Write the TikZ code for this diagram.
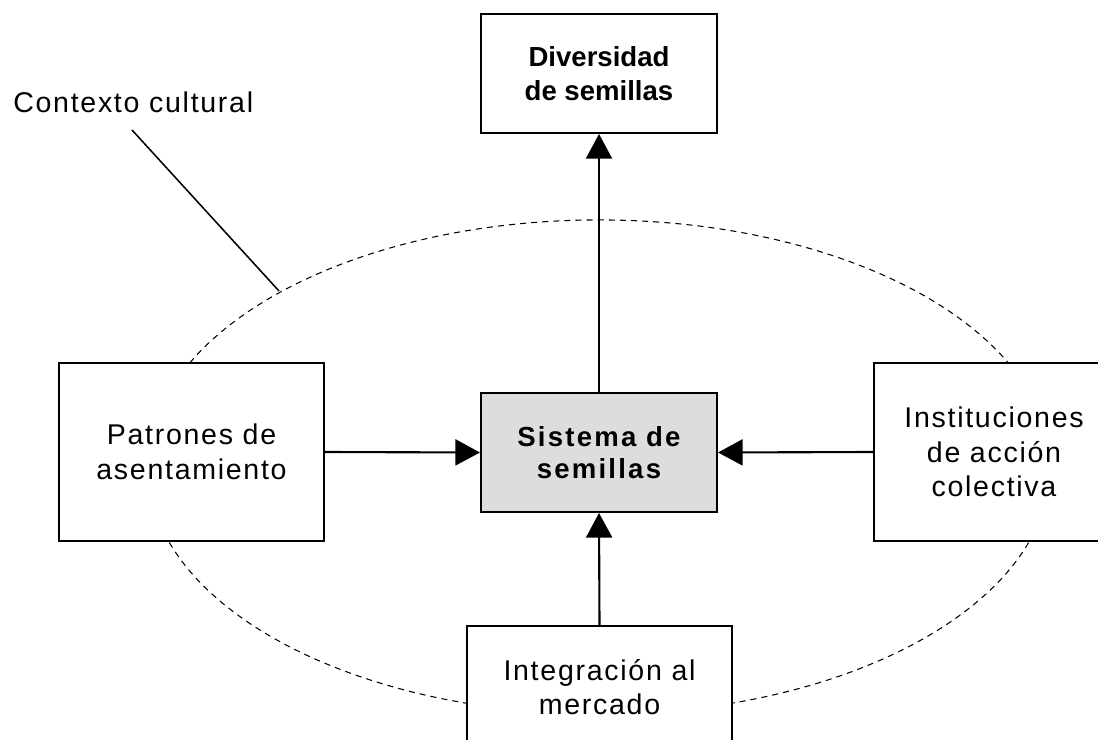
\documentclass[tikz,border=0pt]{standalone}
\usepackage{fontspec}
\setmainfont{Liberation Sans}
\newfontfamily\regsp[LetterSpace=6]{Liberation Sans}
\newfontfamily\boldsp[LetterSpace=8]{Liberation Sans Bold}
\newfontfamily\boldplain{Liberation Sans Bold}
\usetikzlibrary{arrows.meta}
\definecolor{boxgray}{RGB}{220,221,223}
\tikzset{
  box/.style={draw=black, line width=1.4pt, fill=white, align=center, inner sep=0pt},
  regtext/.style={font=\regsp\fontsize{20.3pt}{24.5pt}\selectfont},
  boldtext/.style={font=\boldplain\fontsize{19.6pt}{24.2pt}\selectfont},
  boldsptext/.style={font=\boldsp\fontsize{19.6pt}{23pt}\selectfont},
  conn/.style={line width=1.5pt, -{Triangle[length=17.5pt,width=18.5pt]}},
  ctxline/.style={line width=1.1pt},
  ctxellipse/.style={line width=0.75pt, dash pattern=on 4.3pt off 3.6pt},
}
\begin{document}
\begin{tikzpicture}[x=0.025cm,y=-0.025cm]
  \useasboundingbox (0,0) rectangle (1098,740);
  \clip (0,0) rectangle (1098,740);
  % context ellipse
  \draw[ctxellipse] (599,467) ellipse [x radius=11.275cm, y radius=6.175cm];
  % boxes
  \node[box, boldtext, minimum width=5.9cm, minimum height=2.975cm] (top) at (599,73.5) {Diversidad\\de semillas};
  \node[box, boldsptext, fill=boxgray, minimum width=5.9cm, minimum height=2.975cm] (center) at (599,452.5) {Sistema de\\semillas};
  \node[box, regtext, minimum width=6.625cm, minimum height=4.45cm] (left) at (191.5,452) {Patrones de\\asentamiento};
  \node[box, regtext, minimum width=6cm, minimum height=4.45cm] (right) at (994,452) {Instituciones\\de acción\\colectiva};
  \node[box, regtext, minimum width=6.625cm, minimum height=3.05cm] (bottom) at (599.5,687) {Integración al\\mercado};
  % label
  \node[regtext, anchor=base west, inner sep=0pt] (ctx) at (13,113) {Contexto cultural};
  \coordinate (c1) at (132,130);
  \coordinate (c2) at (279,291);
  \draw[ctxline] (c1) -- (c2);
  % arrows
  \draw[conn] (center.north) -- (top.south);
  \draw[conn] (left.east) -- (center.west);
  \draw[conn] (right.west) -- (center.east);
  \draw[conn] (bottom.north) -- (center.south);
\end{tikzpicture}
\end{document}
